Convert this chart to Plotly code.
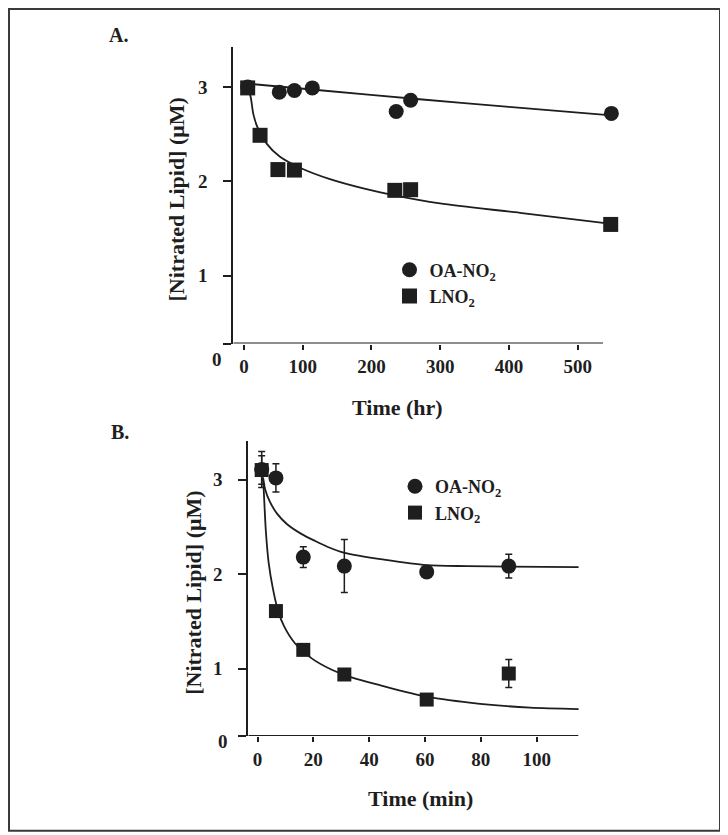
import plotly.graph_objects as go

# ---------------- Panel A data (Time in hr) ----------------
a_oa_time = [20, 66, 88, 114, 236, 257, 549]
a_oa_conc = [3.0, 2.945, 2.963, 2.99, 2.74, 2.86, 2.72]
a_lno2_time = [20, 38, 64, 88, 234, 257, 548]
a_lno2_conc = [2.99, 2.488, 2.125, 2.12, 1.905, 1.912, 1.544]

# fitted curves
a_oa_fit_time = [20, 125, 270, 400, 549]
a_oa_fit_conc = [3.035, 2.965, 2.87, 2.79, 2.70]
a_lno2_fit_time = [20, 24.4, 28.1, 34, 47.6, 67, 98.5, 139.7, 188.2, 231.8, 299.7, 416, 537, 549]
a_lno2_fit_conc = [3.0, 2.894, 2.718, 2.577, 2.40, 2.26, 2.136, 2.023, 1.925, 1.854, 1.766, 1.667, 1.56, 1.548]

a_xtick_vals = [14.6, 100, 200, 300, 400, 500]
a_xtick_text = ["0", "100", "200", "300", "400", "500"]

# ---------------- Panel B data (Time in min) ----------------
b_time = [1.5, 6.6, 16.4, 31.1, 60.6, 90]
b_oa_conc = [3.105, 3.017, 2.18, 2.085, 2.024, 2.085]
b_oa_err = [0.19, 0.15, 0.11, 0.28, 0.04, 0.125]
b_lno2_conc = [3.10, 1.61, 1.20, 0.94, 0.675, 0.95]
b_lno2_err = [0.15, 0.04, 0.03, 0.03, 0.03, 0.148]

b_oa_fit_time = [2.0, 2.7, 4.5, 7, 10.5, 16, 20, 25, 31.2, 46, 60.6, 75, 90, 115]
b_oa_fit_conc = [3.02, 2.90, 2.76, 2.64, 2.53, 2.42, 2.36, 2.29, 2.225, 2.15, 2.095, 2.085, 2.08, 2.075]
b_lno2_fit_time = [2.0, 2.3, 3.0, 4.0, 5.5, 7.3, 9.5, 13.4, 19.4, 26.6, 33.7, 43.5, 60.6, 79.7, 97.6, 115]
b_lno2_fit_conc = [3.02, 2.85, 2.45, 2.12, 1.85, 1.62, 1.45, 1.27, 1.11, 0.99, 0.91, 0.83, 0.705, 0.63, 0.59, 0.575]

b_xtick_vals = [0, 20, 40, 60, 80, 100]

y_tick_vals = [1, 2, 3]
y_tick_text = ["1", "2", "3"]
a_ybottom = 0.283
b_ybottom = 0.29

# page body has an 8px margin: work in window pixels and subtract it
OFF = 8
W, H = 720, 827
INK = "#1e1e1e"
SERIF = "Liberation Serif, Times New Roman, serif"


def px(x):
    return (x - OFF) / W


def py(y):
    return 1 - (y - OFF) / H


fig = go.Figure()

line_style = dict(color=INK, width=1.8, shape="spline", smoothing=0.8)

# Panel A
fig.add_trace(go.Scatter(x=a_oa_fit_time, y=a_oa_fit_conc, mode="lines", line=line_style,
                         showlegend=False, xaxis="x", yaxis="y", hoverinfo="skip"))
fig.add_trace(go.Scatter(x=a_lno2_fit_time, y=a_lno2_fit_conc, mode="lines", line=line_style,
                         showlegend=False, xaxis="x", yaxis="y", hoverinfo="skip"))
fig.add_trace(go.Scatter(x=a_oa_time, y=a_oa_conc, mode="markers", name="OA-NO<sub>2</sub>",
                         marker=dict(symbol="circle", size=15, color=INK),
                         xaxis="x", yaxis="y", legend="legend", cliponaxis=False))
fig.add_trace(go.Scatter(x=a_lno2_time, y=a_lno2_conc, mode="markers", name="LNO<sub>2</sub>",
                         marker=dict(symbol="square", size=15, color=INK),
                         xaxis="x", yaxis="y", legend="legend", cliponaxis=False))

# Panel B
fig.add_trace(go.Scatter(x=b_oa_fit_time, y=b_oa_fit_conc, mode="lines", line=line_style,
                         showlegend=False, xaxis="x2", yaxis="y2", hoverinfo="skip"))
fig.add_trace(go.Scatter(x=b_lno2_fit_time, y=b_lno2_fit_conc, mode="lines", line=line_style,
                         showlegend=False, xaxis="x2", yaxis="y2", hoverinfo="skip"))
fig.add_trace(go.Scatter(x=b_time, y=b_oa_conc, mode="markers", name="OA-NO<sub>2</sub>",
                         marker=dict(symbol="circle", size=15, color=INK),
                         error_y=dict(type="data", array=b_oa_err, color=INK, thickness=1.5, width=3.5),
                         xaxis="x2", yaxis="y2", legend="legend2", cliponaxis=False))
fig.add_trace(go.Scatter(x=b_time, y=b_lno2_conc, mode="markers", name="LNO<sub>2</sub>",
                         marker=dict(symbol="square", size=14, color=INK),
                         error_y=dict(type="data", array=b_lno2_err, color=INK, thickness=1.5, width=3.5),
                         xaxis="x2", yaxis="y2", legend="legend2", cliponaxis=False))

tickfont = dict(family=SERIF, size=19, color=INK, weight="bold")

common_y = dict(showline=True, linewidth=1.8, linecolor=INK, ticks="outside", ticklen=8,
                tickwidth=1.6, tickcolor=INK, showgrid=False, zeroline=False,
                tickfont=tickfont, tickvals=y_tick_vals, ticktext=y_tick_text,
                ticklabelstandoff=12)
common_x = dict(showline=False, ticks="outside", ticklen=5, tickwidth=1.6, tickcolor=INK,
                showgrid=False, zeroline=False, tickfont=tickfont, ticklabelstandoff=1)

a_xrange = [-0.9, 100 + (625 - 302.7) / 0.6875]
b_xrange = [(248.3 - 257.5) / 2.792, (590 - 257.5) / 2.792]

legfont = dict(family=SERIF, size=18, color=INK, weight="bold")

fig.update_layout(
    width=W, height=H,
    margin=dict(l=0, r=0, t=0, b=0),
    paper_bgcolor="white", plot_bgcolor="white",
    xaxis=dict(domain=[px(233.3), px(625)], range=a_xrange, anchor="y",
               tickvals=a_xtick_vals, ticktext=a_xtick_text, **common_x),
    yaxis=dict(domain=[py(343.5), py(47.3)], range=[a_ybottom, 3.42], anchor="x",
               minor=dict(tickvals=[a_ybottom], ticks="outside", ticklen=8, tickwidth=1.6,
                          tickcolor=INK, showgrid=False),
               **common_y),
    xaxis2=dict(domain=[px(248.3), px(590)], range=b_xrange, anchor="y2",
                tickvals=b_xtick_vals, **common_x),
    yaxis2=dict(domain=[py(736), py(440.7)], range=[b_ybottom, 3.41], anchor="x2",
                minor=dict(tickvals=[b_ybottom], ticks="outside", ticklen=8, tickwidth=1.6,
                           tickcolor=INK, showgrid=False),
                **common_y),
    legend=dict(x=px(389.5), y=py(251.5), xanchor="left", yanchor="top",
                bgcolor="rgba(0,0,0,0)", font=legfont,
                itemclick=False, itemdoubleclick=False),
    legend2=dict(x=px(395), y=py(468), xanchor="left", yanchor="top",
                 bgcolor="rgba(0,0,0,0)", font=legfont,
                 itemclick=False, itemdoubleclick=False),
    showlegend=True,
)

# x-axis lines (shorter than plot area, as in the original)
fig.add_shape(type="line", xref="x", yref="y", x0=a_xrange[0], x1=536.8, y0=a_ybottom, y1=a_ybottom,
              line=dict(color=INK, width=1.8))
fig.add_shape(type="line", xref="x2", yref="y2", x0=b_xrange[0], x1=114.9, y0=b_ybottom, y1=b_ybottom,
              line=dict(color=INK, width=1.8))

# outer frame
fig.add_shape(type="rect", xref="paper", yref="paper", x0=px(9), x1=px(720), y0=py(830.7), y1=py(9),
              line=dict(color="#3a3a3a", width=2), fillcolor="rgba(0,0,0,0)", layer="below")

titlefont = dict(family=SERIF, size=22, color=INK, weight="bold")
labfont = dict(family=SERIF, size=20, color=INK, weight="bold")


def ann(text, x, y, font, angle=0):
    fig.add_annotation(text=text, x=px(x), y=py(y), xref="paper", yref="paper",
                       xanchor="center", yanchor="middle", showarrow=False, font=font, textangle=angle)


ann("A.", 118.3, 35, labfont)
ann("B.", 120, 432, labfont)
ann("[Nitrated Lipid] (\u03bcM)", 176.5, 200, titlefont, -90)
ann("[Nitrated Lipid] (\u03bcM)", 193.3, 592.5, titlefont, -90)
ann("Time (hr)", 397, 407, titlefont)
ann("Time (min)", 420, 798, titlefont)
ann("0", 217.3, 359.3, tickfont)
ann("0", 223.3, 741.7, tickfont)

fig.write_html("out.html", config={"displayModeBar": False})
